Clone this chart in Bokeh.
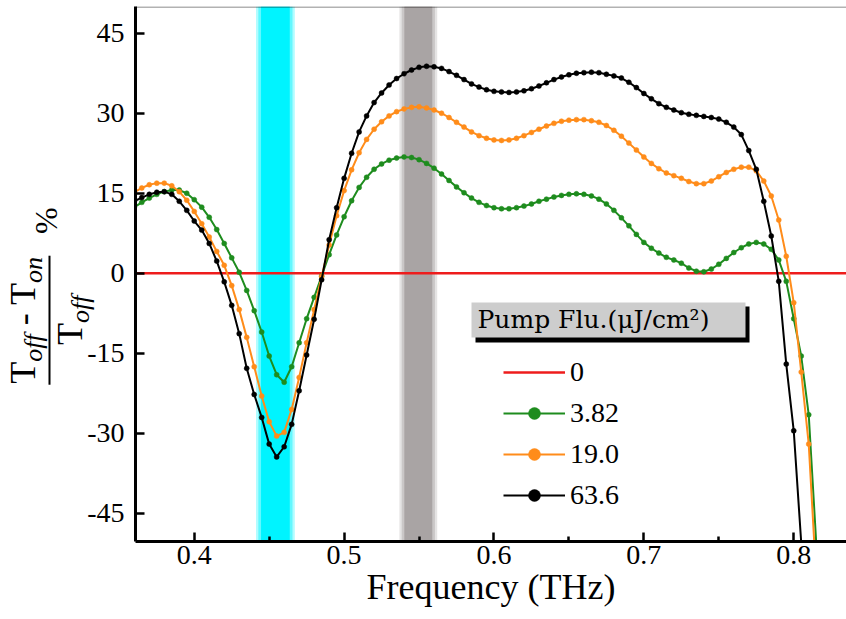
from bokeh.plotting import figure
from bokeh.layouts import row
from bokeh.models import (Range1d, FixedTicker, Label, BoxAnnotation, Legend, LegendItem, Div)
from bokeh.embed import file_html
from bokeh.resources import INLINE

# ---------------- data ----------------
freq = [0.360, 0.365, 0.370, 0.375, 0.380, 0.385, 0.390, 0.395, 0.400, 0.405,
        0.410, 0.415, 0.420, 0.425, 0.430, 0.435, 0.440, 0.445, 0.450, 0.455,
        0.460, 0.465, 0.470, 0.475, 0.480, 0.485, 0.490, 0.495, 0.500, 0.505,
        0.510, 0.515, 0.520, 0.525, 0.530, 0.535, 0.540, 0.545, 0.550, 0.555,
        0.560, 0.565, 0.570, 0.575, 0.580, 0.585, 0.590, 0.595, 0.600, 0.605,
        0.610, 0.615, 0.620, 0.625, 0.630, 0.635, 0.640, 0.645, 0.650, 0.655,
        0.660, 0.665, 0.670, 0.675, 0.680, 0.685, 0.690, 0.695, 0.700, 0.705,
        0.710, 0.715, 0.720, 0.725, 0.730, 0.735, 0.740, 0.745, 0.750, 0.755,
        0.760, 0.765, 0.770, 0.775, 0.780, 0.785, 0.790, 0.795, 0.800, 0.805,
        0.810, 0.815, 0.820, 0.825, 0.830, 0.835]

# pump fluence 0 uJ/cm2 (reference, flat)
flu_0 = [0.0] * len(freq)

# pump fluence 3.82 uJ/cm2
flu_3_82 = [12.4, 13.3, 14.1, 14.8, 15.3, 15.6, 15.6, 15.0, 13.8, 12.4,
            10.5, 8.2, 5.6, 2.9, 0.2, -3.2, -7.0, -11.0, -15.5, -19.0,
            -20.4, -17.5, -13.0, -8.5, -4.5, -0.5, 3.5, 7.2, 10.6, 13.6,
            16.1, 18.0, 19.5, 20.5, 21.2, 21.6, 21.8, 21.7, 21.3, 20.6,
            19.7, 18.6, 17.4, 16.2, 15.1, 14.1, 13.3, 12.7, 12.3, 12.1,
            12.1, 12.3, 12.6, 13.0, 13.5, 13.9, 14.3, 14.6, 14.8, 14.9,
            14.8, 14.5, 13.9, 13.0, 11.8, 10.4, 8.9, 7.3, 5.8, 4.7,
            3.8, 3.0, 2.5, 1.9, 1.0, 0.4, 0.3, 0.8, 1.7, 2.8,
            3.9, 4.8, 5.5, 5.8, 5.5, 4.5, 2.5, -1.5, -8.5, -15.5,
            -26.5, -50.5, -80.0]

# pump fluence 19.0 uJ/cm2
flu_19_0 = [15.2, 16.0, 16.6, 16.9, 16.9, 16.4, 15.3, 13.7, 11.6, 9.3,
            6.8, 4.1, 1.5, -2.3, -6.8, -12.0, -17.5, -23.0, -27.8, -30.5,
            -29.8, -25.5, -19.5, -13.0, -6.8, -0.6, 5.3, 10.8, 15.5, 19.4,
            22.6, 25.1, 27.0, 28.4, 29.5, 30.3, 30.8, 31.1, 31.2, 31.0,
            30.6, 30.0, 29.2, 28.3, 27.4, 26.5, 25.8, 25.3, 25.0, 24.9,
            25.0, 25.3, 25.8, 26.4, 27.0, 27.6, 28.1, 28.5, 28.7, 28.8,
            28.8, 28.6, 28.3, 27.7, 26.8, 25.7, 24.4, 23.1, 21.8, 20.6,
            19.6, 18.8, 18.3, 17.8, 17.2, 16.8, 16.8, 17.3, 18.1, 18.9,
            19.5, 19.9, 19.9, 19.2, 17.3, 14.5, 10.0, 3.2, -5.5, -18.5,
            -32.0, -57.0]

# pump fluence 63.6 uJ/cm2
flu_63_6 = [13.5, 14.2, 14.8, 15.2, 15.3, 14.8, 13.5, 11.8, 9.8, 8.1,
            5.6, 2.3, -1.6, -6.0, -11.3, -17.8, -22.7, -27.0, -32.0, -34.4,
            -32.5, -28.3, -22.0, -15.3, -8.6, -1.2, 6.3, 12.3, 17.8, 22.5,
            26.5, 29.5, 32.0, 33.8, 35.3, 36.5, 37.4, 38.1, 38.6, 38.8,
            38.7, 38.4, 37.8, 37.1, 36.3, 35.5, 34.9, 34.4, 34.1, 34.0,
            33.9, 34.0, 34.2, 34.6, 35.1, 35.7, 36.3, 36.8, 37.2, 37.5,
            37.6, 37.7, 37.6, 37.3, 37.0, 36.6, 35.8, 34.8, 33.7, 32.7,
            31.8, 31.1, 30.6, 30.1, 29.8, 29.6, 29.4, 29.2, 28.9, 28.3,
            27.4, 26.0, 23.0, 19.5, 13.5, 7.0, -1.5, -17.0, -29.5, -50.5,
            -70.0]

legend_title = "Pump Flu.(\u03bcJ/cm\u00b2)"
legend_labels = ["0", "3.82", "19.0", "63.6"]
series_colors = ["#ee1c1c", "#1e8c1e", "#ff8c1a", "#000000"]

x_ticks = [0.4, 0.5, 0.6, 0.7, 0.8]
x_minor_ticks = [0.45, 0.55, 0.65, 0.75]
y_ticks = [-45, -30, -15, 0, 15, 30, 45]

cyan_band = [0.4412, 0.4671]   # highlighted frequency windows
gray_band = [0.5369, 0.5621]

x_label = "Frequency (THz)"

# ---------------- layout ----------------
W, H = 846, 619
LW = 84                            # width of the y-label strip
FL, FT, FB = 132, 6, 541           # frame left / top / bottom in page px
X0, X1 = 0.3608, 0.8352
Y0, Y1 = -50.25, 50.0

SERIF = "Liberation Serif"

p = figure(width=W - LW, height=H, output_backend="svg", toolbar_location=None,
           x_range=Range1d(X0, X1), y_range=Range1d(Y0, Y1),
           min_border_left=FL - LW, min_border_right=0, min_border_top=FT,
           min_border_bottom=H - FB, margin=0)
p.outline_line_color = None
p.background_fill_color = "white"
p.border_fill_color = "white"
p.border_fill_alpha = 0
p.xgrid.visible = False
p.ygrid.visible = False

for ax in (p.xaxis[0], p.yaxis[0]):
    ax.axis_line_width = 3
    ax.axis_line_color = "black"
    ax.major_tick_line_width = 2.5
    ax.minor_tick_line_width = 2.5
    ax.major_tick_in = 9
    ax.major_tick_out = 0
    ax.minor_tick_in = 5
    ax.minor_tick_out = 0
    ax.major_label_text_font = SERIF
    ax.major_label_text_font_size = "28px"
    ax.major_label_text_color = "black"
p.xaxis.ticker = FixedTicker(ticks=x_ticks, minor_ticks=x_minor_ticks)
p.yaxis.ticker = FixedTicker(ticks=y_ticks, minor_ticks=[])
p.yaxis.major_label_overrides = {t: str(t) for t in y_ticks}
p.xaxis.major_label_standoff = 4
p.yaxis.major_label_standoff = 11
p.xaxis.axis_label = x_label
p.xaxis.axis_label_text_font = SERIF
p.xaxis.axis_label_text_font_size = "36px"
p.xaxis.axis_label_text_font_style = "normal"
p.xaxis.axis_label_text_color = "black"
p.xaxis.axis_label_standoff = 0

# top frame line
p.add_layout(BoxAnnotation(top=Y1, bottom=Y1, left=X0, right=X1,
                           line_color="black", line_width=3, fill_alpha=0))

# soft-edged highlight bands
def band(rng, color):
    lo, hi = rng
    span = hi - lo
    for shrink, alpha in ((0.0, 0.30), (0.06, 0.45), (0.13, 1.0)):
        p.add_layout(BoxAnnotation(left=lo + span * shrink, right=hi - span * shrink,
                                   fill_color=color, fill_alpha=alpha,
                                   line_alpha=0, level="underlay"))

band(cyan_band, "#00f4ff")
band(gray_band, "#a9a4a4")

# series
r0 = p.line(freq, flu_0, line_color=series_colors[0], line_width=2.5)
renderers = [[r0]]
for vals, col in ((flu_3_82, series_colors[1]), (flu_19_0, series_colors[2]),
                  (flu_63_6, series_colors[3])):
    xs = freq[:len(vals)]
    rl = p.line(xs, vals, line_color=col, line_width=2)
    rs = p.scatter(xs, vals, size=5, marker="circle", fill_color=col,
                   line_color=col, line_width=0.5)
    renderers.append([rl, rs])

legend = Legend(items=[LegendItem(label=lab, renderers=rs)
                       for lab, rs in zip(legend_labels, renderers)],
                location=(368, 30), orientation="vertical",
                glyph_width=62, glyph_height=30, label_height=30, spacing=9,
                label_standoff=5, padding=0, margin=0,
                border_line_color=None, background_fill_alpha=0,
                label_text_font=SERIF, label_text_font_size="28px",
                label_text_color="black", label_text_baseline="middle")
p.add_layout(legend)

def scr(cx, cy):
    return cx - FL, FB - cy

# legend title box with shadow
def sbox(l, t, r, b, color):
    x0, y0 = scr(l, b)
    x1, y1 = scr(r, t)
    p.add_layout(BoxAnnotation(left=x0, right=x1, bottom=y0, top=y1,
                               left_units="screen", right_units="screen",
                               top_units="screen", bottom_units="screen",
                               fill_color=color, fill_alpha=1, line_alpha=0,
                               level="overlay"))

sbox(472, 306, 746, 342, "black")
sbox(468, 302, 742, 337, "#cdcdcd")
tx, ty = scr(474, 319)
p.add_layout(Label(x=tx, y=ty, x_units="screen", y_units="screen",
                   text=legend_title, text_font="DejaVu Serif",
                   text_font_size="25px", text_color="black",
                   text_align="left", text_baseline="alphabetic", level="overlay"))

# ---------------- y-label: (T_off - T_on) / T_off %  (HTML, rotated by CSS) ----------------
SUB = "font-size:26px;font-style:italic;position:relative;top:7px;"
ylabel_html = (
    "<div style=\"position:absolute;left:48px;top:296px;"
    "transform:translate(-50%,-50%) rotate(-90deg);white-space:nowrap;"
    "font-family:'Liberation Serif',serif;color:#000;display:flex;align-items:center;\">"
    "<div style=\"display:flex;flex-direction:column;align-items:center;\">"
    "<div style=\"font-size:36px;line-height:36px;padding:0 1px 4px 1px;"
    "border-bottom:2.5px solid #000;\">"
    f"T<span style=\"{SUB}\">off</span> - T<span style=\"{SUB}\">on</span></div>"
    "<div style=\"font-size:36px;line-height:36px;padding-top:1px;\">"
    f"T<span style=\"{SUB}\">off</span></div>"
    "</div>"
    "<div style=\"font-size:32px;line-height:36px;margin-left:22px;margin-bottom:6px;\">%</div>"
    "</div>"
)
ylab = Div(text=ylabel_html, width=LW, height=H, margin=0,
           styles={"overflow": "visible", "position": "relative"})

layout = row(ylab, p, spacing=0, margin=0)
open("out.html", "w").write(file_html(layout, INLINE))
